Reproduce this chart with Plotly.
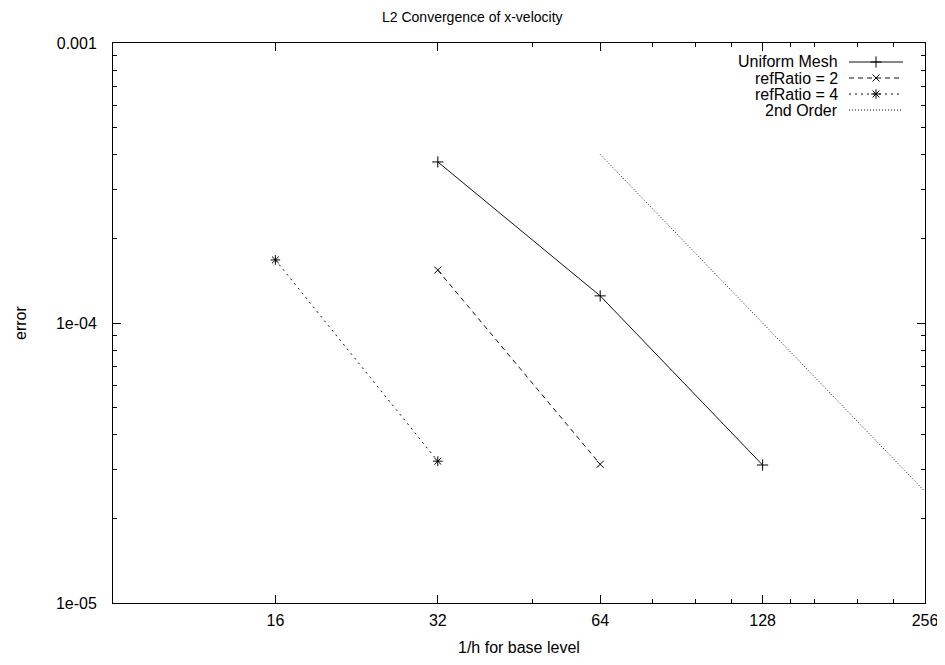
import plotly.graph_objects as go
import math

# ---- data ----
uniform_x = [32, 64, 128]
uniform_y = [3.76e-4, 1.25e-4, 3.11e-5]
ref2_x = [32, 64]
ref2_y = [1.545e-4, 3.13e-5]
ref4_x = [16, 32]
ref4_y = [1.68e-4, 3.21e-5]
order2_x = [64, 128, 256]
order2_y = [4.0e-4, 1.0e-4, 2.5e-5]

series_names = ["Uniform Mesh", "refRatio = 2", "refRatio = 4", "2nd Order"]

x_major = [16, 32, 64, 128, 256]
x_major_text = ["16", "32", "64", "128", "256"]
x_minor = [48, 80, 96, 112, 144, 160, 192, 224]
y_major = [1e-5, 1e-4, 1e-3]
y_major_text = ["1e-05", "1e-04", "0.001"]
y_minor = [k * 10.0 ** e for e in (-5, -4) for k in range(2, 10)]

title_text = "L2 Convergence of x-velocity"
x_title = "1/h for base level"
y_title = "error"

FONT = "Liberation Sans, Arial, sans-serif"
INK = "#000000"

# figure placed inside the page's 8px body margin
W, H = 937, 649
L, R, T, B = 105, 20, 35, 54
pw, ph = W - L - R, H - T - B


def px(xf):
    return (xf - L) / pw


def py(yf):
    return (H - B - yf) / ph


styles = {
    "Uniform Mesh": dict(dash="solid", symbol="cross-thin", size=8),
    "refRatio = 2": dict(dash="5px,4px", symbol="x-thin", size=7),
    "refRatio = 4": dict(dash="2px,4px", symbol="asterisk", size=8),
    "2nd Order": dict(dash="1px,2px", symbol=None, size=0),
}

fig = go.Figure()

data = [(uniform_x, uniform_y), (ref2_x, ref2_y), (ref4_x, ref4_y), (order2_x, order2_y)]
for name, (xs, ys) in zip(series_names, data):
    st = styles[name]
    mode = "lines+markers" if st["symbol"] else "lines"
    marker = dict(symbol=st["symbol"], size=st["size"], color=INK,
                  line=dict(color=INK, width=1)) if st["symbol"] else None
    fig.add_trace(go.Scatter(x=xs, y=ys, mode=mode, name=name, showlegend=False,
                             line=dict(color="#111111", width=1, dash=st["dash"]),
                             marker=marker))

# minor tick overlay axes (dummy trace so they are drawn)
fig.add_trace(go.Scatter(x=[None], y=[None], xaxis="x3", yaxis="y3", showlegend=False,
                         hoverinfo="skip"))

# legend (gnuplot style: text, then sample on the right)
leg_rows = [54, 70, 86, 102]
text_right = 831
samp_l, samp_r = 841, 895
fig.add_trace(go.Scatter(x=[None], y=[None], xaxis="x4", yaxis="y4", showlegend=False,
                         hoverinfo="skip"))
for name, ry in zip(series_names, leg_rows):
    st = styles[name]
    yp = py(ry)
    x0, x1 = px(samp_l), px(samp_r)
    fig.add_trace(go.Scatter(x=[x0, x1], y=[yp, yp], xaxis="x4", yaxis="y4", mode="lines",
                             line=dict(color="#111111", width=1, dash=st["dash"]),
                             showlegend=False, hoverinfo="skip"))
    if st["symbol"]:
        fig.add_trace(go.Scatter(x=[(x0 + x1) / 2], y=[yp], xaxis="x4", yaxis="y4",
                                 mode="markers", showlegend=False, hoverinfo="skip",
                                 marker=dict(symbol=st["symbol"], size=st["size"], color=INK,
                                             line=dict(color=INK, width=1))))
    fig.add_annotation(text=name, xref="paper", yref="paper",
                       x=px(text_right), y=yp, xanchor="right", yanchor="middle",
                       showarrow=False, borderpad=0,
                       font=dict(family=FONT, size=16, color=INK))

# title and axis titles
fig.add_annotation(text=title_text, xref="paper", yref="paper", x=px(464), y=py(0),
                   xanchor="center", yanchor="top", showarrow=False, borderpad=0,
                   font=dict(family=FONT, size=14, color=INK))
fig.add_annotation(text=x_title, xref="paper", yref="paper", x=0.5, y=py(639),
                   xanchor="center", yanchor="middle", showarrow=False, borderpad=0,
                   font=dict(family=FONT, size=16, color=INK))
fig.add_annotation(text=y_title, xref="paper", yref="paper", x=px(12), y=0.5,
                   xanchor="center", yanchor="middle", textangle=-90, showarrow=False,
                   borderpad=0, font=dict(family=FONT, size=16, color=INK))

xr = [math.log10(8), math.log10(256) + 1e-6]
yr = [-5, -3]

axis_common = dict(showgrid=False, zeroline=False, showline=True, linecolor=INK,
                   linewidth=1, mirror="ticks", ticks="inside", tickcolor=INK,
                   tickwidth=1, automargin=False)
tickfont = dict(family=FONT, size=16, color=INK)

fig.update_layout(
    width=W, height=H,
    margin=dict(l=L, r=R, t=T, b=B, autoexpand=False),
    paper_bgcolor="white", plot_bgcolor="white",
    xaxis=dict(type="log", range=xr, tickvals=x_major, ticktext=x_major_text, ticklen=8,
               tickfont=tickfont, ticklabelstandoff=3, ticklabeloverflow="allow",
               **axis_common),
    yaxis=dict(type="log", range=yr, tickvals=y_major, ticktext=y_major_text, ticklen=8,
               tickfont=tickfont, ticklabelstandoff=12, ticklabeloverflow="allow",
               **axis_common),
    xaxis3=dict(type="log", range=xr, overlaying="x", anchor="y3", tickvals=x_minor,
                showticklabels=False, ticklen=4, **axis_common),
    yaxis3=dict(type="log", range=yr, overlaying="y", anchor="x3", tickvals=y_minor,
                showticklabels=False, ticklen=4, **axis_common),
    xaxis4=dict(range=[0, 1], overlaying="x", anchor="y4", visible=False),
    yaxis4=dict(range=[0, 1], overlaying="y", anchor="x4", visible=False),
)

fig.write_html("out.html")
